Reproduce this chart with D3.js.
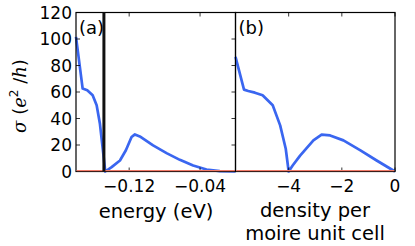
<!DOCTYPE html>
<html>
<head>
<meta charset="utf-8">
<script src="https://cdn.jsdelivr.net/npm/d3@7"></script>
<style>
  body { margin: 0; background: #fff; }
  text { font-family: "DejaVu Sans", sans-serif; fill: #000; }
</style>
</head>
<body>
<div class="canvas"></div>
<script>
// panel (a): conductivity vs energy
const energy = [-0.18, -0.1725, -0.1673, -0.1612, -0.1567, -0.153, -0.1492, -0.147,
                -0.1398, -0.1304, -0.1237, -0.1173, -0.1135, -0.108, -0.093, -0.0778,
                -0.0628, -0.0478, -0.0327, -0.0177, 0]
const sigmaA = [101.6, 62.6, 61.3, 57.5, 50, 36, 13.6, 0,
                3.3, 8.3, 16, 26, 28, 26.5, 19.7, 13.9,
                8.8, 4.5, 1.5, 0.3, 0]
const gapEnergy = -0.1485

// panel (b): conductivity vs density
const density = [-6, -5.68, -5.52, -5.27, -4.98, -4.6, -4.32, -4.11, -4,
                 -3.85, -3.57, -3.07, -2.76, -2.44, -1.94, -1.3, -0.69, 0]
const sigmaB = [86.5, 61.8, 60.8, 59.5, 57.5, 50, 34.8, 17.2, 0,
                4.5, 12, 23.5, 27.8, 27.2, 23.5, 16, 8.3, 0]

const yTicks = [0, 20, 40, 60, 80, 100, 120]
const xTicksA = [-0.12, -0.04]
const xTicksB = [-4, -2, 0]

const svg = d3.select(".canvas").append("svg")
    .attr("width", 415)
    .attr("height", 246)

const yTop = 12.5, yBot = 171.5

const y = d3.scaleLinear().domain([0, 120]).range([yBot, yTop])
const xA = d3.scaleLinear().domain([-0.18, 0]).range([76, 235.5])
const xB = d3.scaleLinear().domain([-6, 0]).range([235.5, 395])

const blue = "#3a66f0"
const red = "#f27a68"

function panel(x, xs, ys, ticks, fmt, label, showY) {
    const g = svg.append("g")
    const [x0, x1] = x.range()

    const line = d3.line()
        .x((d, i) => x(xs[i]))
        .y((d) => y(d))
    g.append("path")
        .attr("d", line(ys))
        .attr("fill", "none")
        .attr("stroke", blue)
        .attr("stroke-width", 2.7)
        .attr("stroke-linejoin", "round")

    // x ticks, top and bottom, pointing inward
    ticks.forEach((t) => {
        g.append("line").attr("x1", x(t)).attr("x2", x(t))
            .attr("y1", yBot).attr("y2", yBot - 4)
            .attr("stroke", "#000").attr("stroke-width", 0.8)
        g.append("line").attr("x1", x(t)).attr("x2", x(t))
            .attr("y1", yTop).attr("y2", yTop + 4)
            .attr("stroke", "#000").attr("stroke-width", 0.8)
        g.append("text")
            .attr("x", x(t)).attr("y", yBot + 20)
            .attr("text-anchor", "middle")
            .attr("font-size", 17)
            .text(fmt(t))
    })

    if (showY) {
        yTicks.forEach((t) => {
            g.append("line").attr("x1", x0).attr("x2", x0 + 4)
                .attr("y1", y(t)).attr("y2", y(t))
                .attr("stroke", "#000").attr("stroke-width", 0.8)
            g.append("line").attr("x1", x1).attr("x2", x1 - 4)
                .attr("y1", y(t)).attr("y2", y(t))
                .attr("stroke", "#000").attr("stroke-width", 0.8)
            g.append("text")
                .attr("x", x0 - 4).attr("y", y(t) + 6)
                .attr("text-anchor", "end")
                .attr("font-size", 17)
                .text(t)
        })
    }

    g.append("rect")
        .attr("x", x0).attr("y", yTop)
        .attr("width", x1 - x0).attr("height", yBot - yTop)
        .attr("fill", "none").attr("stroke", "#000").attr("stroke-width", 1.2)

    // red zero line, drawn just above the bottom frame
    g.append("line")
        .attr("x1", x0 + 0.6).attr("x2", x1 - 0.6)
        .attr("y1", y(0) - 0.9).attr("y2", y(0) - 0.9)
        .attr("stroke", red).attr("stroke-width", 1.2)

    g.append("text")
        .attr("x", x0 + 3).attr("y", yTop + 21)
        .attr("font-size", 18)
        .text(label)
    return g
}

const ga = panel(xA, energy, sigmaA, xTicksA, (d) => d3.format(".2f")(d).replace("-", "\u2212"), "(a)", true)
panel(xB, density, sigmaB, xTicksB, (d) => String(d).replace("-", "\u2212"), "(b)", false)

// thick black vertical marker in (a)
ga.append("line")
    .attr("x1", xA(gapEnergy)).attr("x2", xA(gapEnergy))
    .attr("y1", yTop).attr("y2", yBot)
    .attr("stroke", "#111").attr("stroke-width", 3)

// axis labels
svg.append("text")
    .attr("x", 156).attr("y", 218)
    .attr("text-anchor", "middle")
    .attr("font-size", 19.5)
    .text("energy (eV)")

svg.append("text")
    .attr("x", 315).attr("y", 217)
    .attr("text-anchor", "middle")
    .attr("font-size", 19.5)
    .text("density per")
svg.append("text")
    .attr("x", 315).attr("y", 240)
    .attr("text-anchor", "middle")
    .attr("font-size", 19.5)
    .text("moire unit cell")

const ylab = svg.append("text")
    .attr("transform", "translate(26,96) rotate(-90)")
    .attr("text-anchor", "middle")
    .attr("font-size", 18)
ylab.append("tspan").attr("font-style", "italic").attr("font-family", "DejaVu Serif").text("σ")
ylab.append("tspan").text(" (")
ylab.append("tspan").attr("font-style", "italic").attr("font-family", "DejaVu Serif").text("e")
ylab.append("tspan").attr("font-size", 12).attr("dy", -8).text("2")
ylab.append("tspan").attr("dy", 8).text(" /")
ylab.append("tspan").attr("font-style", "italic").attr("font-family", "DejaVu Serif").text("h")
ylab.append("tspan").text(")")
</script>
</body>
</html>
